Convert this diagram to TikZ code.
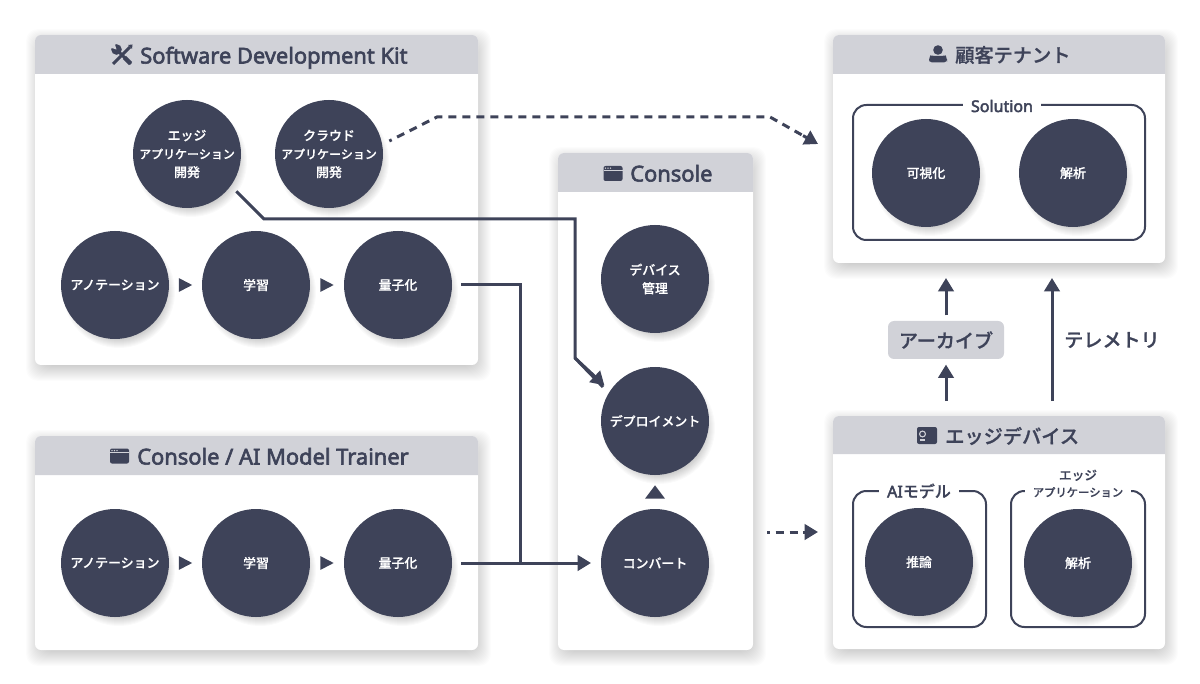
\documentclass[tikz,border=0pt]{standalone}
\usepackage{fontspec}
\usepackage{xcolor}
\setmainfont{Noto Sans}
\newfontfamily\latinbold[FakeBold=2.8]{Noto Sans}
\newfontfamily\cjk[FakeBold=0.5]{Noto Sans CJK JP Medium}
\newfontfamily\cjkhead[FakeBold=0.9]{Noto Sans CJK JP Medium}
\usetikzlibrary{arrows.meta}
\definecolor{ink}{HTML}{3E4359}
\definecolor{headgrey}{HTML}{D1D2D8}
\tikzset{
  disc/.style={circle,fill=ink,text=white,minimum size=81pt,inner sep=0pt,outer sep=0pt,align=center,font=\fontsize{9.7}{13.8}\selectfont\cjk,execute at begin node={\vspace*{1.5pt}}},
  headtext/.style={anchor=base west,text=ink,inner sep=0pt,font=\fontsize{16.4}{18}\selectfont\latinbold},
  headjp/.style={anchor=west,text=ink,inner sep=0pt,font=\fontsize{14.4}{18}\selectfont\cjkhead},
  frame/.style={draw=ink,line width=1.5pt,rounded corners=10pt},
  framelabel/.style={fill=white,text=ink,inner xsep=6pt,inner ysep=0pt,align=center,font=\fontsize{12}{14}\selectfont\latinbold},
  flow/.style={draw=ink,line width=2.25pt,-{Triangle[length=10pt,width=11.5pt]}},
  dashline/.style={draw=ink,line width=2.25pt,dash pattern=on 6pt off 4.5pt,dash phase=4pt},
  windowicon/.pic={
    \fill[ink,rounded corners=1.5pt] (-9.5,-7.5) rectangle (9.5,7.5);
    \fill[headgrey] (-9.5,-3.6) rectangle (9.5,-3);
    \foreach \dx in {-7.5,-5,-2.5} \fill[headgrey] (\dx,-5.4) circle (0.6pt);
  },
  personicon/.pic={
    \fill[ink] (0,-4.5) circle (3.6pt);
    \fill[ink,rounded corners=2.5pt] (-9,8) -- (-9,4) .. controls (-8,1.5) and (8,1.5) .. (9,4) -- (9,8) -- cycle;
  },
  deviceicon/.pic={
    \fill[ink,rounded corners=1.5pt] (-10,-8.5) rectangle (10,8.5);
    \draw[headgrey,line width=0.8pt] (-4.5,-1.5) circle (2.2pt);
    \draw[headgrey,line width=0.8pt] (-7,4.5) -- (-2,4.5);
  },
  toolicon/.pic={
    \draw[ink,line width=2.2pt] (-9,9) -- (8,-8);
    \fill[ink] (6,-10) -- (10.5,-10.5) -- (10,-6) -- cycle;
    \draw[ink,line width=2.2pt] (-5.5,-5.5) -- (9,9);
    \draw[ink,line width=3.2pt] (2.5,2.5) -- (8.5,8.5);
    \fill[ink] (-5.5,-5.5) circle (4pt);
    \fill[headgrey] (-5.5,-5.5) -- (-12,-7.5) -- (-7.5,-12) -- cycle;
  },
}
% soft shadows are stacks of faint shapes
\newcommand{\cardshadow}[4]{\foreach \r in {1,...,16}
  \fill[black,opacity=0.0105,rounded corners=9pt] (#1+7-\r,#2+10-\r) rectangle (#3-3+\r,#4+\r);}
\newcommand{\disc}[3]{\foreach \r in {1,...,12}
  \fill[black,opacity=0.02] (#2) ++(4,7) circle ({(44+\r)*0.75pt});
  \node[disc] (#1) at (#2) {#3};}
\newcommand{\card}[5]{\cardshadow{#1}{#2}{#3}{#4}
  \fill[white,rounded corners=4.5pt] (#1,#2) rectangle (#3,#4);
  \fill[headgrey] (#1,#5) {[rounded corners=4.5pt] -- (#1,#2) -- (#3,#2)} -- (#3,#5) -- cycle;}
% triangle between two neighbouring discs
\newcommand{\righttri}[2]{\path (#1) -- (#2) coordinate[midway] (tri#1);
  \fill[ink] ([xshift=-5pt,yshift=-5.2pt]tri#1) -- ([xshift=5pt]tri#1) -- ([xshift=-5pt,yshift=5.2pt]tri#1) -- cycle;}
\newcommand{\kana}{\fontsize{9}{13.8}\selectfont}

\begin{document}
\begin{tikzpicture}[x=0.75pt,y=-0.75pt]
\useasboundingbox (0,0) rectangle (1200,684);
\fill[white] (0,0) rectangle (1200,684);

% cards
\card{35}{35}{478}{365}{74}
\card{35}{436}{478}{650}{475}
\card{558}{153}{753}{650}{192}
\card{833}{35}{1165}{263}{74}
\card{833}{416}{1165}{649}{454}

% card titles
\pic at (122,55) {toolicon};
\node[headtext] (sdktitle) at (140,63.5) {Software Development Kit};
\pic at (119.5,456) {windowicon};
\node[headtext] (trainertitle) at (137,464.5) {Console / AI Model Trainer};
\pic at (613,173.5) {windowicon};
\node[headtext] (consoletitle) at (630,181.5) {Console};
\pic at (938,54.5) {personicon};
\node[headjp] (tenanttitle) at (955,55) {顧客テナント};
\pic at (927,435.5) {deviceicon};
\node[headjp] (edgetitle) at (945,436) {エッジデバイス};

% solution and edge frames
\draw[frame] (853,105) rectangle (1145,240);
\node[framelabel] (solutionlabel) at (1002,106) {Solution};
\draw[frame] (853,491) rectangle (986,627);
\node[framelabel] (modellabel) at (919,491) {AI{\cjkhead モデル}};
\draw[frame] (1011,491) rectangle (1145,627);
\node[framelabel,font=\fontsize{8.5}{12.5}\selectfont\cjk] (applabel) at (1078,483.5) {{\fontsize{9.5}{12.5}\selectfont エッジ}\\アプリケーション};

% discs of the kit
\disc{edgeapp}{187,154}{エッジ\\{\kana アプリケーション}\\開発}
\disc{cloudapp}{329,154}{クラウド\\{\kana アプリケーション}\\開発}
\disc{annota}{115,285}{アノテーション}
\disc{traina}{256,285}{学習}
\disc{quanta}{398,285}{量子化}
% discs of the trainer
\disc{annotb}{115,563}{アノテーション}
\disc{trainb}{256,563}{学習}
\disc{quantb}{398,563}{量子化}
% discs of the console
\disc{devmgmt}{655,279}{デバイス\\管理}
\disc{deploy}{655,421}{デプロイメント}
\disc{convert}{655,563}{コンバート}
% discs of the tenant and the edge
\disc{visual}{926,173}{可視化}
\disc{analysis}{1073,173}{解析}
\disc{infer}{919,562}{推論}
\disc{edgeana}{1078,563}{解析}

% small triangles
\righttri{annota}{traina}
\righttri{traina}{quanta}
\righttri{annotb}{trainb}
\righttri{trainb}{quantb}
\path (convert) -- (deploy) coordinate[midway] (triup);
\fill[ink] ([xshift=-7.5pt,yshift=-5pt]triup) -- ([yshift=5pt]triup) -- ([xshift=7.5pt,yshift=-5pt]triup) -- cycle;

% archive and telemetry
\node[fill=headgrey,rounded corners=4.5pt,minimum width=87pt,minimum height=28.5pt,inner sep=0pt,text=ink,font=\fontsize{14.3}{16}\selectfont\cjkhead] (archive) at (946,340) {アーカイブ};
\node[text=ink,inner sep=0pt,font=\fontsize{14.3}{16}\selectfont\cjkhead] (telemetry) at (1112,340) {テレメトリ};

\coordinate (tenantin) at (818,144);
\coordinate (tenantfoot) at (803,135.6);
\coordinate (consoleout) at (767,532);
\coordinate (edgefoot) at (803,532);
\coordinate (edgein) at (818,532);
\coordinate (tenantarch) at (946,278);
\coordinate (tenanttele) at (1052,278);
\coordinate (edgearch) at (946,401);
\coordinate (edgetele) at (1052,401);

% connectors
\draw[dashline,shorten <=6pt] (cloudapp.10) -- (437,117) -- (770,117) -- (tenantfoot);
\draw[flow] (tenantfoot) -- (tenantin);
\draw[flow,-,shorten <=6pt] (edgeapp.-36) -- (264,219) -- (575,219) -- (575,358) -- (603,387);
\draw[flow,shorten >=6pt] (575,358) -- (deploy.146);
\draw[flow,-,shorten <=7pt] (quanta.east) -- (520,285) -- (520,562);
\draw[flow,shorten <=7pt,shorten >=7.5pt] (quantb.east) -- (convert.west);
\draw[dashline] (consoleout) -- (edgefoot);
\draw[flow] (edgefoot) -- (edgein);
\draw[flow,shorten <=4pt] (archive.north) -- (tenantarch);
\draw[flow,shorten >=4pt] (edgearch) -- (archive.south);
\draw[flow] (edgetele) -- (tenanttele);
\end{tikzpicture}
\end{document}
